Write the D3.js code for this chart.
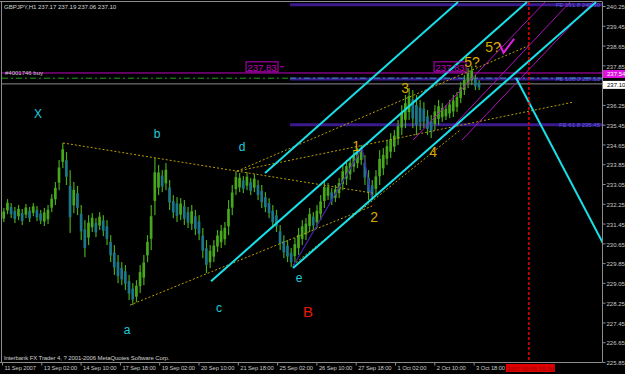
<!DOCTYPE html>
<html>
<head>
<meta charset="utf-8">
<script src="https://cdnjs.cloudflare.com/ajax/libs/d3/7.8.5/d3.min.js"></script>
<style>
	html, body { margin: 0; padding: 0; background: #000; }
	svg { display: block; font-family: "Liberation Sans", Arial, sans-serif; }
</style>
</head>
<body>
<svg id="chart" width="625" height="374"></svg>
<script>
	// --- data ---
	var chartTitle = "GBPJPY,H1  237.17 237.19 237.06 237.10";
	var copyright = "Interbank FX Trader 4, ? 2001-2006 MetaQuotes Software Corp.";

	// one entry = 3 hourly bars merged
	var hourStep = 3;
	var highs = [232.08,232.44,232.28,232.12,232.20,232.04,232.24,232.12,232.28,232.16,
		232.00,232.08,232.20,232.64,233.13,234.02,234.71,234.34,233.61,233.13,
		232.97,232.20,231.59,231.79,231.87,231.67,231.91,231.79,231.59,230.98,
		230.58,230.18,229.89,229.77,229.37,229.04,229.16,229.77,230.18,230.98,
		232.20,234.10,233.82,233.61,233.90,233.21,232.60,232.52,232.48,232.40,
		232.12,232.20,232.00,231.79,231.27,230.78,230.58,230.78,231.19,231.39,
		231.51,232.40,233.01,233.57,233.49,233.37,233.53,233.29,233.45,233.21,
		233.01,232.72,232.48,232.20,232.00,231.39,230.98,230.78,230.46,230.86,
		231.27,231.59,231.67,232.08,231.91,232.20,232.60,233.21,233.09,232.89,
		233.01,233.29,233.82,234.02,234.14,234.42,234.50,234.63,234.22,233.61,
		233.21,233.61,234.42,234.50,234.83,235.11,235.23,235.64,236.24,236.65,
		236.93,236.85,236.65,236.45,236.36,236.04,235.84,236.24,236.45,236.32,
		236.24,236.45,236.65,236.77,237.17,237.46,237.74,237.83,237.46,237.25];
	var lows = [231.51,231.83,231.67,231.47,231.59,231.39,231.67,231.51,231.75,231.55,
		231.43,231.35,231.43,231.91,232.20,232.80,233.69,233.01,231.07,231.87,
		231.79,230.78,230.09,230.58,231.11,230.90,231.19,230.94,230.58,229.89,
		229.37,229.04,228.96,228.76,228.36,228.15,228.27,228.64,228.96,229.89,
		230.38,231.79,232.60,232.72,232.80,232.00,231.67,231.51,231.59,231.39,
		231.27,231.19,230.98,230.78,230.05,229.45,229.65,229.89,230.30,230.46,
		230.58,230.98,231.79,232.60,232.72,232.68,232.80,232.60,232.72,232.40,
		232.08,231.91,231.67,231.27,231.11,230.38,230.05,229.89,229.69,229.89,
		230.18,230.58,230.78,231.11,231.19,231.27,231.59,232.08,232.40,232.20,
		232.32,232.48,232.80,233.01,233.21,233.53,233.69,233.82,233.01,232.40,
		232.40,232.60,233.01,233.41,233.82,234.10,234.34,234.63,235.03,235.31,
		235.64,235.31,235.03,235.23,235.31,235.03,234.91,235.23,235.43,235.56,
		235.64,235.72,235.76,235.96,236.32,236.65,236.93,237.05,236.85,236.85];

	var timeTickHours = [0, 32, 64, 96, 128, 160, 192, 224, 256, 288, 320, 352, 384];
	var timeTickLabels = ["11 Sep 2007", "13 Sep 02:00", "14 Sep 10:00", "17 Sep 18:00", "19 Sep 02:00",
		"20 Sep 10:00", "21 Sep 18:00", "25 Sep 02:00", "26 Sep 10:00", "27 Sep 18:00",
		"1 Oct 02:00", "2 Oct 10:00", "3 Oct 18:00"];
	// 237.05 sits under the bid box in the picture
	var priceTicks = [240.25, 239.45, 238.65, 237.85, 236.25, 235.45, 234.65, 233.85, 233.05,
		232.25, 231.45, 230.65, 229.85, 229.05, 228.25, 227.45, 226.65, 225.85];

	var bidPrice = 237.10;
	var buyPrice = 237.54, buyLabel = "#4001746 buy";
	var stopPrice = 237.33;

	// fibo expansion levels: [start hour, price, label]
	var feLevels = [[234.5, 240.30, "FE 161.8 240.30"], [234.5, 237.30, "FE 100.0 237.30"], [234.5, 235.45, "FE 61.8 235.45"]];

	// trend lines [hour1, price1, hour2, price2]
	var cyanLines = [[214.2, 233.49, 371.3, 240.41], [170.2, 229.12, 427.5, 240.41],
		[237.0, 229.65, 483.7, 240.41], [418.6, 237.34, 492.0, 230.40]];
	var yellowLines = [[49.7, 234.71, 302.1, 232.68], [104.2, 228.15, 301.3, 232.16],
		[191.4, 233.57, 430.0, 238.67], [191.4, 233.57, 465.0, 236.36],
		[236.9, 229.77, 373.0, 235.23]];
	var purpleLines = [[236.6, 229.69, 293.2, 234.50], [293.2, 234.50, 301.3, 232.40]];
	var magentaLines = [[334.7, 234.83, 442.2, 240.41], [356.7, 234.83, 462.5, 240.41], [374.6, 234.83, 481.3, 240.41]];

	var cutHour = 429, cutLabel = "2007.10.05 15:00";

	// wave labels [text, hour, price, colour, size]
	var waveLabels = [["X", 29.3, 235.88, "#22ccdd", 12], ["b", 126.2, 235.07, "#22ccdd", 12],
		["d", 195.4, 234.54, "#22ccdd", 12], ["a", 101.8, 227.14, "#22ccdd", 12],
		["c", 176.7, 228.03, "#22ccdd", 12], ["e", 241.9, 229.25, "#22ccdd", 12],
		["B", 249.2, 227.91, "#e8180c", 15],
		["1", 288.3, 234.58, "#d8aa00", 14], ["2", 303.0, 231.71, "#d8aa00", 14],
		["3", 328.2, 236.93, "#d8aa00", 14], ["4", 351.0, 234.34, "#d8aa00", 14],
		["5?", 382.7, 237.98, "#d8aa00", 14], ["5?", 399.8, 238.59, "#d8aa00", 14]];
	var peakPrice = 237.83;
	var peakBoxHours = [198.7, 351.8];

	// --- drawing ---
	var plotL = 2, plotR = 602, plotT = 2, plotB = 362;
	var svg = d3.select("#chart");

	var x = d3.scaleLinear().domain([0, 384]).range([2, 473.6]);
	var y = d3.scaleLinear().domain([225.85, 240.25]).range([362, 6]);

	svg.append("rect").attr("width", 625).attr("height", 374).attr("fill", "#000");

	svg.append("clipPath").attr("id", "plotclip")
		.append("rect").attr("x", plotL).attr("y", plotT).attr("width", plotR - plotL).attr("height", plotB - plotT);

	var g = svg.append("g").attr("clip-path", "url(#plotclip)");

	// fibo expansion bands
	g.selectAll("line.fe").data(feLevels).enter().append("line")
		.attr("x1", function(d){ return x(d[0]); })
		.attr("x2", plotR)
		.attr("y1", function(d){ return y(d[1]); })
		.attr("y2", function(d){ return y(d[1]); })
		.attr("stroke", "#3a1a8c")
		.attr("stroke-width", 3);

	g.selectAll("text.fe").data(feLevels).enter().append("text")
		.attr("x", plotR - 2)
		.attr("y", function(d){ return y(d[1]) + 2; })
		.attr("text-anchor", "end")
		.attr("font-size", "6px")
		.attr("fill", "#5a5ae0")
		.text(function(d){ return d[2]; });

	// order lines
	g.append("line").attr("x1", plotL).attr("x2", plotR)
		.attr("y1", y(buyPrice)).attr("y2", y(buyPrice))
		.attr("stroke", "#c000c0").attr("stroke-width", 1);
	g.append("line").attr("x1", plotL).attr("x2", x(234.5))
		.attr("y1", y(stopPrice)).attr("y2", y(stopPrice))
		.attr("stroke", "#1ca01c").attr("stroke-dasharray", "6,3,2,3");
	g.append("line").attr("x1", x(234.5)).attr("x2", plotR)
		.attr("y1", y(stopPrice)).attr("y2", y(stopPrice))
		.attr("stroke", "#2a9aa8").attr("stroke-dasharray", "6,3,2,3");
	g.append("line").attr("x1", plotL).attr("x2", plotR)
		.attr("y1", y(bidPrice)).attr("y2", y(bidPrice))
		.attr("stroke", "#8a8a8a");

	g.append("text").attr("x", 5).attr("y", y(buyPrice) + 2)
		.attr("font-size", "6px").attr("fill", "#c8c8c8").text(buyLabel);

	// price bars
	var bars = highs.map(function(h, i){ return {t: i * hourStep, hi: h, lo: lows[i]}; });
	var bw = x(hourStep) - x(0);
	var green = "#48a81c", teal = "#1c7888";

	var barG = g.selectAll("g.bar").data(bars).enter().append("g");
	barG.append("rect")
		.attr("x", function(d){ return x(d.t) + bw / 2 - 0.6; })
		.attr("width", 1.2)
		.attr("y", function(d){ return y(d.hi); })
		.attr("height", function(d){ return y(d.lo) - y(d.hi); })
		.attr("fill", green);
	barG.append("rect")
		.attr("x", function(d){ return x(d.t) + 0.4; })
		.attr("width", bw - 1)
		.attr("y", function(d){ return y(d.hi) + (y(d.lo) - y(d.hi)) * 0.25; })
		.attr("height", function(d){ return (y(d.lo) - y(d.hi)) * 0.5; })
		.attr("fill", function(d, i){
			if (i == 0) return green;
			var prev = bars[i - 1];
			return (d.hi + d.lo) < (prev.hi + prev.lo) ? teal : green;
		});

	// trend lines
	function drawLines(list, colour, width, dash) {
		g.append("g").selectAll("line").data(list).enter().append("line")
			.attr("x1", function(d){ return x(d[0]); })
			.attr("y1", function(d){ return y(d[1]); })
			.attr("x2", function(d){ return x(d[2]); })
			.attr("y2", function(d){ return y(d[3]); })
			.attr("stroke", colour)
			.attr("stroke-width", width)
			.attr("stroke-dasharray", dash);
	}
	drawLines(yellowLines, "#b8a000", 1, "2,2");
	drawLines(purpleLines, "#4422aa", 1.2, null);
	drawLines(magentaLines, "#b010c0", 1, null);
	drawLines(cyanLines, "#18e0e8", 2, null);

	// vertical cut line
	g.append("line").attr("x1", x(cutHour)).attr("x2", x(cutHour))
		.attr("y1", plotT).attr("y2", plotB)
		.attr("stroke", "#e00000").attr("stroke-width", 1.5).attr("stroke-dasharray", "3,2");

	// tick mark arrow
	g.append("path")
		.attr("d", d3.line()([[x(405.0), y(238.72)], [x(408.4), y(238.36)], [x(417.0), y(238.92)]]))
		.attr("fill", "none").attr("stroke", "#e020e0").attr("stroke-width", 2);

	// peak price boxes
	var pk = g.selectAll("g.peak").data(peakBoxHours).enter().append("g");
	pk.append("rect")
		.attr("x", function(d){ return x(d); })
		.attr("y", y(peakPrice) - 4)
		.attr("width", 32).attr("height", 10)
		.attr("fill", "none").attr("stroke", "#c000c0");
	pk.append("text")
		.attr("x", function(d){ return x(d) + 16; })
		.attr("y", y(peakPrice) + 5)
		.attr("text-anchor", "middle")
		.attr("font-size", "9.5px")
		.attr("fill", "#c000c0")
		.text(peakPrice.toFixed(2));
	g.append("line").attr("x1", x(peakBoxHours[0]) + 34).attr("x2", x(peakBoxHours[0]) + 38)
		.attr("y1", y(peakPrice) + 1).attr("y2", y(peakPrice) + 1).attr("stroke", "#c000c0");

	// wave labels
	g.selectAll("text.wave").data(waveLabels).enter().append("text")
		.attr("x", function(d){ return x(d[1]); })
		.attr("y", function(d){ return y(d[2]); })
		.attr("text-anchor", "middle")
		.attr("dominant-baseline", "central")
		.attr("font-size", function(d){ return d[4] + "px"; })
		.attr("fill", function(d){ return d[3]; })
		.text(function(d){ return d[0]; });

	// frame and axes
	var frame = "#8c8c8c";
	svg.append("line").attr("x1", 0).attr("x2", plotR).attr("y1", 1.5).attr("y2", 1.5).attr("stroke", frame);
	svg.append("line").attr("x1", 1.5).attr("x2", 1.5).attr("y1", 1.5).attr("y2", plotB).attr("stroke", frame);
	svg.append("line").attr("x1", plotR + 0.5).attr("x2", plotR + 0.5).attr("y1", 1.5).attr("y2", plotB + 0.5).attr("stroke", frame);
	svg.append("line").attr("x1", 0).attr("x2", plotR).attr("y1", plotB + 0.5).attr("y2", plotB + 0.5).attr("stroke", frame);

	var yAxis = svg.append("g").attr("transform", "translate(" + (plotR + 0.5) + ",0)")
		.call(d3.axisRight(y).tickValues(priceTicks).tickSize(3).tickFormat(d3.format(".2f")));
	yAxis.select(".domain").remove();
	yAxis.selectAll("line").attr("stroke", frame);
	yAxis.selectAll("text").attr("fill", "#c8c8c8").attr("font-size", "6px")
		.attr("font-family", "Liberation Sans, Arial, sans-serif").attr("x", 4).attr("dy", "0.45em");

	var xAxis = svg.append("g").attr("transform", "translate(0," + (plotB + 0.5) + ")")
		.call(d3.axisBottom(x).tickValues(timeTickHours).tickSize(3)
			.tickFormat(function(d, i){ return timeTickLabels[i]; }));
	xAxis.select(".domain").remove();
	xAxis.selectAll("line").attr("stroke", frame);
	xAxis.selectAll("text").attr("fill", "#c8c8c8").attr("font-size", "5.8px")
		.attr("letter-spacing", "-0.1px")
		.attr("font-family", "Liberation Sans, Arial, sans-serif")
		.attr("text-anchor", "start").attr("x", 2).attr("y", 3).attr("dy", "0.75em");

	// axis price boxes
	function axisBox(price, fill, colour, label) {
		svg.append("rect").attr("x", plotR + 1).attr("y", y(price) - 3)
			.attr("width", 22).attr("height", 8).attr("fill", fill);
		svg.append("text").attr("x", plotR + 5).attr("y", y(price) + 3)
			.attr("font-size", "6px").attr("fill", colour).text(label);
	}
	axisBox(buyPrice, "#e010e0", "#ffffff", buyPrice.toFixed(2));
	axisBox(bidPrice, "#ffffff", "#000000", bidPrice.toFixed(2));

	// cut date box on the time axis
	svg.append("rect").attr("x", x(cutHour) - 23).attr("y", plotB + 2)
		.attr("width", 49).attr("height", 8).attr("fill", "#e00000");
	svg.append("text").attr("x", x(cutHour) + 1.5).attr("y", plotB + 8.5)
		.attr("text-anchor", "middle").attr("font-size", "6px").attr("fill", "#900000").text(cutLabel);

	// title and copyright
	svg.append("text").attr("x", 4).attr("y", 9).attr("font-size", "6.2px").attr("letter-spacing", "-0.1px")
		.attr("fill", "#d0d0d0").text(chartTitle);
	svg.append("text").attr("x", 4).attr("y", 360).attr("font-size", "6px").attr("letter-spacing", "-0.1px")
		.attr("fill", "#d0d0d0").text(copyright);
</script>
</body>
</html>
